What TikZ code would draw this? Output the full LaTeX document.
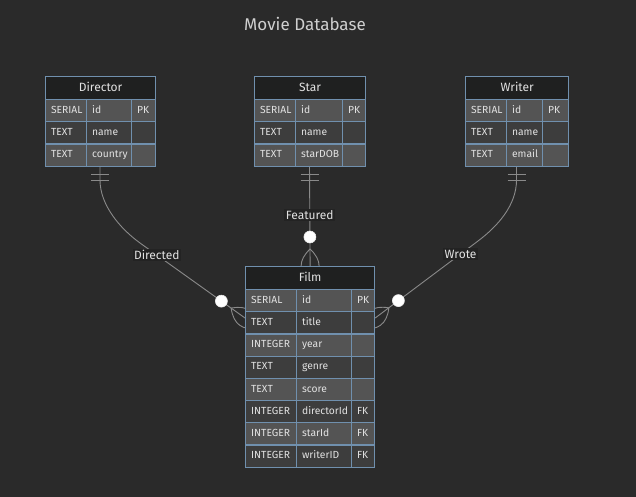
\documentclass[tikz,border=0pt]{standalone}
\usepackage{fontspec}
\setmainfont{Fira Sans}
\usetikzlibrary{calc}

\definecolor{canvasbg}{HTML}{2A2A2A}
\definecolor{headfill}{HTML}{1F2020}
\definecolor{rowodd}{HTML}{545454}
\definecolor{roweven}{HTML}{3D3D3D}
\definecolor{erborder}{HTML}{7090AE}
\definecolor{cellink}{HTML}{E2E2E2}
\definecolor{relcolor}{HTML}{8A8A8A}
\definecolor{labelbg}{HTML}{232323}
\definecolor{titleink}{HTML}{CFCFCF}

\pgfdeclarelayer{canvas}
\pgfdeclarelayer{links}
\pgfsetlayers{canvas,links,main}

\tikzset{
  erhead/.style={draw=erborder, line width=1.2pt, fill=headfill, text=cellink,
    font=\fontsize{12}{14}\selectfont, minimum height=23, inner sep=0pt,
    text height=8.5pt, text depth=2.5pt, anchor=north west},
  ercell/.style={draw=erborder, line width=1.2pt, text=cellink,
    font=\fontsize{10.3}{12}\selectfont, minimum height=22.2, inner sep=0pt,
    text height=7.3pt, text depth=2.2pt, anchor=north west},
  titletext/.style={text=titleink, font=\fontsize{17}{20}\selectfont},
  relline/.style={draw=relcolor, line width=0.9pt},
  rellabel/.style={fill=labelbg, text=cellink, font=\fontsize{12}{14}\selectfont, inner sep=1.5pt},
  zerocirc/.style={circle, fill=white, draw=white!85!relcolor, line width=0.6pt,
    minimum size=12pt, inner sep=0pt},
  onlyone/.pic={\draw[relline] (-9,9) -- (9,9) (-9,15) -- (9,15);},
  crowfoot/.pic={\draw[relline] (-17,0) .. controls (-5.67,12) and (5.67,12) .. (17,0)
    .. controls (5.67,-12) and (-5.67,-12) .. cycle;},
}

% #1 name, #2 title, #3/#4 top left, #5-#7 column widths, #8 rows, #9 row count
\newcommand{\erentity}[9]{%
  \pgfmathsetmacro{\xb}{#3+#5}%
  \pgfmathsetmacro{\xc}{#3+#5+#6}%
  \pgfmathsetmacro{\tw}{#5+#6+#7}%
  \node[erhead, minimum width=\tw] (#1) at (#3,#4) {#2};
  \foreach \ty/\fd/\ky [count=\i] in {#8} {
    \pgfmathsetmacro{\ry}{#4+23+(\i-1)*22.2}
    \ifodd\i\relax\def\rowfill{rowodd}\else\def\rowfill{roweven}\fi
    \node[ercell, fill=\rowfill, minimum width=#5] (#1-\i-1) at (#3,\ry)
      {\makebox[#5pt][l]{\hspace*{5.5pt}\ty}};
    \node[ercell, fill=\rowfill, minimum width=#6] (#1-\i-2) at (\xb,\ry)
      {\makebox[#6pt][l]{\hspace*{5.5pt}\fd}};
    \node[ercell, fill=\rowfill, minimum width=#7] (#1-\i-3) at (\xc,\ry)
      {\makebox[#7pt][l]{\hspace*{5.5pt}\ky}};
  }
  \coordinate (#1-foot) at ({#3+\tw/2},{#4+23+#9*22.2});
}

\begin{document}
\begin{tikzpicture}[x=1pt, y=-1pt]
  \useasboundingbox (0,0) rectangle (636,497);
  \begin{pgfonlayer}{canvas}
    \fill[canvasbg] (0,0) rectangle (636,497);
  \end{pgfonlayer}

  \node[titletext] (title) at (305,24) {Movie Database};

  % entities
  \erentity{director}{Director}{45}{76}{41}{45}{24}
    {SERIAL/id/PK, TEXT/name/, TEXT/country/}{3}
  \erentity{star}{Star}{254}{76}{41}{47}{23}
    {SERIAL/id/PK, TEXT/name/, TEXT/starDOB/}{3}
  \erentity{writer}{Writer}{465}{76}{41}{36}{26}
    {SERIAL/id/PK, TEXT/name/, TEXT/email/}{3}
  \erentity{film}{Film}{245}{266}{51}{55}{23}
    {SERIAL/id/PK, TEXT/title/, INTEGER/year/, TEXT/genre/, TEXT/score/,
     INTEGER/directorId/FK, INTEGER/starId/FK, INTEGER/writerID/FK}{8}

  % relationships
  \begin{pgfonlayer}{links}
    \coordinate (film-west) at ([yshift=-6.8pt]film-2-1.north west);
    \coordinate (film-east) at ([yshift=-6.8pt]film-2-3.north east);
    \coordinate (dir-bend) at (140,243);
    \coordinate (wri-bend) at (478,241);

    \draw[relline] (director-foot) -- (100,180) .. controls (100,205) and (120,228.5) .. (dir-bend)
      -- node[rellabel, pos=0.16] {Directed} (film-west);
    \pic at (director-foot) {onlyone};
    \pic[rotate=-35.5] at (film-west) {crowfoot};
    \node[zerocirc] (dir-zero) at ($(film-west)!29pt!(dir-bend)$) {};

    \draw[relline] (star-foot) -- node[rellabel, pos=0.49] {Featured} (film.north);
    \pic at (star-foot) {onlyone};
    \pic[rotate=90] at (film.north) {crowfoot};
    \node[zerocirc] (star-zero) at ($(film.north)!29pt!(star-foot)$) {};

    \draw[relline] (writer-foot) -- (516.5,180) .. controls (516.5,205) and (498,226) .. (wri-bend)
      -- node[rellabel, pos=0.17] {Wrote} (film-east);
    \pic at (writer-foot) {onlyone};
    \pic[rotate=36.5] at (film-east) {crowfoot};
    \node[zerocirc] (wri-zero) at ($(film-east)!29pt!(wri-bend)$) {};
  \end{pgfonlayer}
\end{tikzpicture}
\end{document}
